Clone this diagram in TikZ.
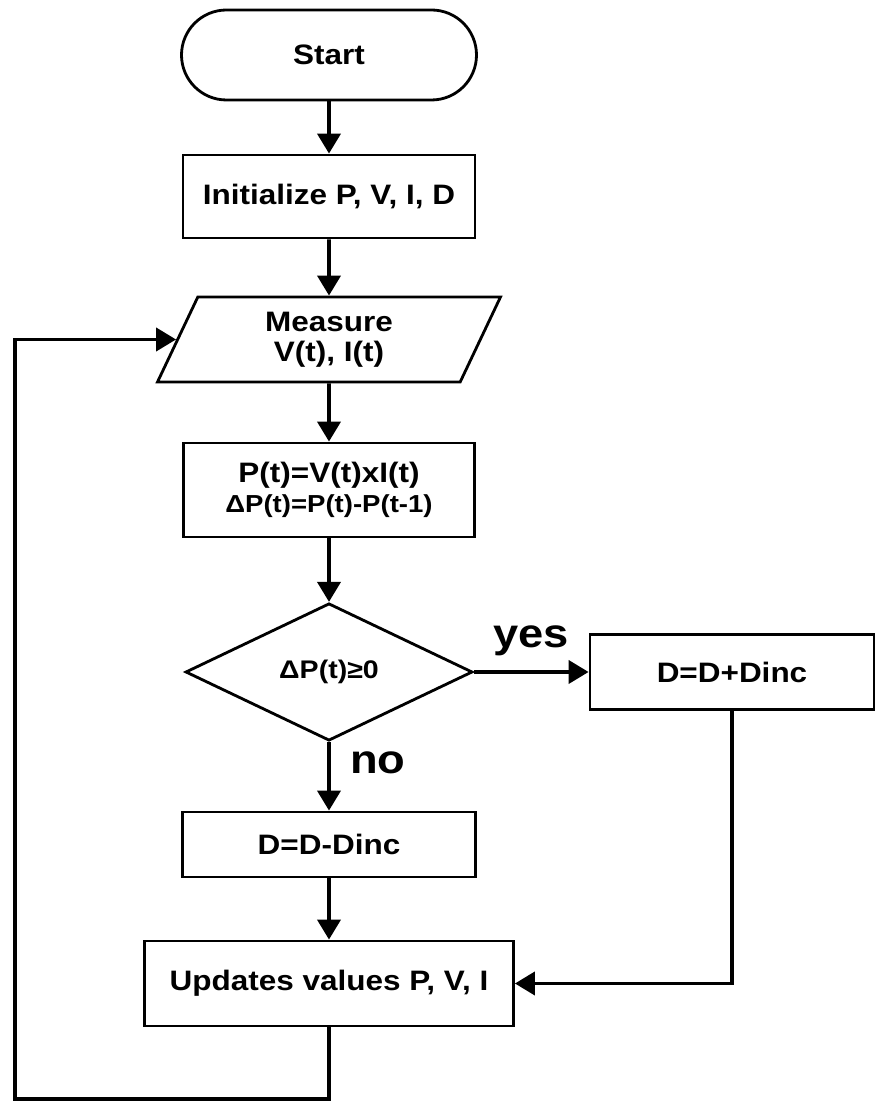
\documentclass[tikz,border=0pt]{standalone}
\usepackage{fontspec}
\setmainfont{Liberation Sans}[FakeStretch=1.12]
\usetikzlibrary{arrows.meta,positioning,shapes.geometric}

\begin{document}
\begin{tikzpicture}[>={Triangle[length=0.4cm,width=0.46cm]},
  node font=\fontsize{16}{19}\selectfont\bfseries,
  stepbox/.style={draw,line width=1.6pt,align=center,inner sep=2pt},
  flow/.style={->,line width=2.2pt}]
  \useasboundingbox (0,0) rectangle (17.52,22.08);
  % main column
  \node[stepbox,rounded corners=0.9cm,minimum width=5.9cm,minimum height=1.8cm] (start) at (6.58,20.98) {Start};
  \node[stepbox,minimum width=5.84cm,minimum height=1.66cm] (init) at (6.58,18.15) {Initialize P, V, I, D};
  \node[stepbox,trapezium,trapezium left angle=57,trapezium right angle=123,trapezium stretches body,
        minimum width=6.86cm,minimum height=1.7cm] (measure) at (6.58,15.29) {Measure\\[-2pt]V(t), I(t)};
  \node[stepbox,minimum width=5.82cm,minimum height=1.88cm] (calc) at (6.58,12.28)
    {P(t)=V(t)xI(t)\\[-2pt]{\fontsize{14}{16}\selectfont ΔP(t)=P(t)-P(t-1)}};
  \node[stepbox,diamond,minimum width=5.74cm,minimum height=2.68cm,font=\fontsize{14.5}{17}\selectfont\bfseries] (test) at (6.58,8.64) {ΔP(t)≥0};
  \node[stepbox,minimum width=5.68cm,minimum height=1.5cm] (inc) at (14.64,8.64) {D=D+Dinc};
  \node[stepbox,minimum width=5.86cm,minimum height=1.3cm] (decr) at (6.58,5.19) {D=D-Dinc};
  \node[stepbox,minimum width=7.38cm,minimum height=1.7cm] (update) at (6.58,2.41) {Updates values P, V, I};
  \coordinate (loopcorner) at (0.3,0.1);
  % arrows
  \draw[flow] (start) -- (init);
  \draw[flow] (init) -- (measure);
  \draw[flow] (measure) -- (calc);
  \draw[flow] (calc) -- (test);
  \draw[flow] (test.east) -- node[above=0.1cm,font=\fontsize{23}{26}\selectfont\bfseries] {yes} (inc.west);
  \draw[flow] (test.south) -- node[right=0.2cm,pos=0.3,font=\fontsize{23}{26}\selectfont\bfseries] {no} (decr.north);
  \draw[flow] (decr) -- (update);
  \draw[flow] (inc.south) |- (update.east);
  \draw[flow] (update.south) |- (loopcorner) |- (measure.west);
\end{tikzpicture}
\end{document}
